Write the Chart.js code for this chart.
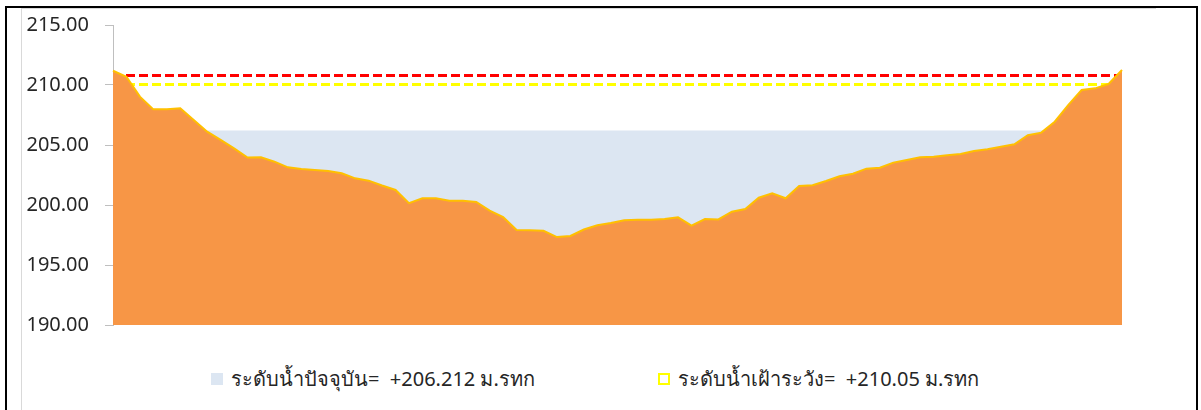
<!DOCTYPE html>
<html lang="th">
<head>
    <meta charset="UTF-8">
    <title>ระดับน้ำ</title>
    <script src="https://cdn.jsdelivr.net/npm/chart.js"></script>
    <style>
        body {
            margin: 0;
            width: 1201px;
            height: 410px;
            position: relative;
            overflow: hidden;
            background: #ffffff;
            font-family: "Noto Sans", sans-serif;
        }
        .frame {
            position: absolute;
            left: 5px;
            top: 6px;
            width: 1189px;
            height: 420px;
            border: 2px solid #000;
        }
        .inner {
            position: absolute;
            left: 21px;
            top: 8px;
            width: 1134px;
            height: 420px;
            border-left: 1px solid #d9d9d9;
            border-top: 1px solid #d9d9d9;
        }
        /* label padding eats 28px above/below the plot, so the box is shifted up */
        #chart-box {
            position: absolute;
            left: 0;
            top: -3px;
            width: 1201px;
            height: 356px;
        }
        .legend-item {
            position: absolute;
            top: 363px;
            display: flex;
            align-items: center;
            font-size: 20px;
            color: #262626;
            white-space: pre;
        }
        .legend-item .box {
            width: 12px;
            height: 12px;
            margin-right: 8px;
            box-sizing: border-box;
        }
        .box.water { background: #dce6f2; }
        .box.alert { border: 2px dashed #ffff00; }
    </style>
</head>
<body>
    <div class="frame"></div>
    <div class="inner"></div>
    <div id="chart-box">
        <canvas id="section-chart"></canvas>
    </div>
    <div class="legend-item" style="left:211px;"><span class="box water"></span><span id="lg-water"></span></div>
    <div class="legend-item" style="left:658px;"><span class="box alert"></span><span id="lg-alert"></span></div>

    <script>
        // ground profile of the cross section (m.MSL)
        const elevation = [
            211.19, 210.69, 209.03, 207.97, 207.97, 208.06, 207.08, 206.11, 205.42, 204.72,
            203.95, 203.97, 203.61, 203.14, 203.00, 202.92, 202.83, 202.64, 202.22, 202.03,
            201.62, 201.25, 200.15, 200.56, 200.56, 200.35, 200.36, 200.26, 199.53, 199.00,
            197.92, 197.90, 197.85, 197.33, 197.42, 197.96, 198.31, 198.50, 198.72, 198.78,
            198.78, 198.83, 198.97, 198.28, 198.83, 198.80, 199.44, 199.67, 200.61, 200.97,
            200.56, 201.58, 201.64, 202.00, 202.40, 202.60, 203.03, 203.11, 203.53, 203.75,
            203.97, 204.03, 204.14, 204.25, 204.50, 204.64, 204.86, 205.06, 205.81, 206.03,
            206.94, 208.33, 209.58, 209.72, 210.08, 211.25
        ];
        const stations = elevation.map((_, i) => i);

        const waterLevel = 206.212;   // current water level
        const alertLevel = 210.05;    // watch level
        const bankLevel = 210.8;      // bank top (red dashed)

        const yTicks = [190, 195, 200, 205, 210, 215];

        const waterText = 'ระดับน้ำปัจจุบัน=  +' + waterLevel.toFixed(3) + ' ม.รทก';
        const alertText = 'ระดับน้ำเฝ้าระวัง=  +' + alertLevel.toFixed(2) + ' ม.รทก';

        document.getElementById('lg-water').textContent = waterText;
        document.getElementById('lg-alert').textContent = alertText;

        const flat = v => stations.map(() => v);

        const ctx = document.getElementById('section-chart').getContext('2d');

        new Chart(ctx, {
            type: 'line',
            data: {
                labels: stations,
                datasets: [
                    {
                        label: 'ground',
                        data: elevation,
                        fill: 'start',
                        backgroundColor: '#f79646',
                        borderColor: '#ffc000',
                        borderWidth: 2,
                        pointRadius: 0,
                        tension: 0
                    },
                    {
                        label: waterText,
                        data: flat(waterLevel),
                        fill: 'start',
                        backgroundColor: '#dce6f2',
                        borderWidth: 0,
                        pointRadius: 0
                    },
                    {
                        label: alertText,
                        data: flat(alertLevel),
                        fill: false,
                        borderColor: '#ffff00',
                        borderWidth: 3,
                        borderDash: [9, 4],
                        pointRadius: 0
                    },
                    {
                        label: 'bank',
                        data: flat(bankLevel),
                        fill: false,
                        borderColor: '#ff0000',
                        borderWidth: 3,
                        borderDash: [9, 4],
                        pointRadius: 0
                    }
                ]
            },
            options: {
                responsive: true,
                maintainAspectRatio: false,
                animation: false,
                layout: {
                    padding: { top: 0, bottom: 0, left: 0, right: 79 }
                },
                scales: {
                    x: { display: false },
                    y: {
                        min: 190,
                        max: 215,
                        afterFit: s => { s.width = 113; },
                        afterBuildTicks: s => { s.ticks = yTicks.map(v => ({ value: v })); },
                        border: { display: true, color: '#bfbfbf', width: 1 },
                        grid: {
                            drawOnChartArea: false,
                            drawTicks: true,
                            tickLength: 8,
                            color: '#bfbfbf'
                        },
                        ticks: {
                            padding: 16,
                            color: '#262626',
                            font: { family: 'Noto Sans', size: 20 },
                            callback: v => v.toFixed(2)
                        }
                    }
                },
                plugins: {
                    legend: { display: false },
                    tooltip: { enabled: false }
                }
            }
        });
    </script>
</body>
</html>
